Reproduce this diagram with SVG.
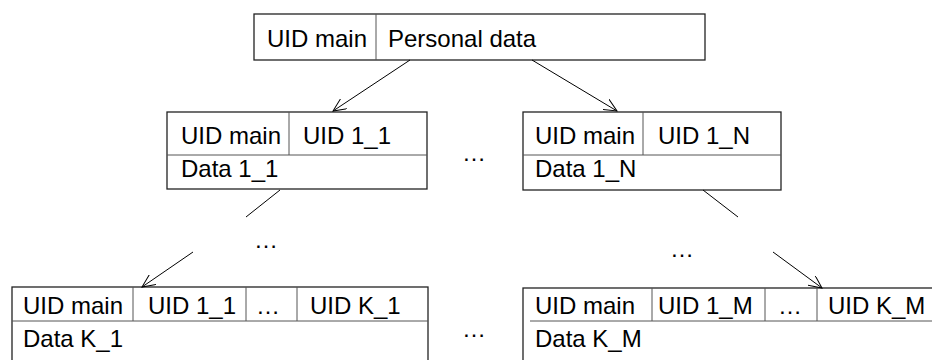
<svg xmlns="http://www.w3.org/2000/svg" width="932" height="360" viewBox="0 0 932 360">
<style>
.box{fill:#fff;stroke:#222;stroke-width:1.3}
.div{stroke:#555;stroke-width:1;fill:none}
.t{font-family:"Liberation Sans",Arial,sans-serif;font-size:24px;fill:#000}
.m{text-anchor:middle}
.c{stroke:#000;stroke-width:1;fill:none}
</style>
<defs>
<marker id="ah" viewBox="0 0 14 12" refX="13" refY="6" markerWidth="14" markerHeight="12" markerUnits="userSpaceOnUse" orient="auto">
<path d="M0,0 L13,6 L0,12" fill="none" stroke="#000" stroke-width="1"/>
</marker>
</defs>
<rect width="932" height="360" fill="#fff"/>
<g id="top">
<rect class="box" x="254" y="14" width="451" height="46"/>
<line class="div" x1="376" y1="14" x2="376" y2="60"/>
<text class="t" x="267" y="47">UID main</text>
<text class="t" x="388" y="47">Personal data</text>
</g>
<g id="mid1">
<rect class="box" x="167" y="112" width="260" height="77"/>
<line class="div" x1="289" y1="112" x2="289" y2="155"/>
<line class="div" x1="167" y1="155" x2="427" y2="155"/>
<text class="t" x="181" y="144">UID main</text>
<text class="t" x="303" y="144">UID 1_1</text>
<text class="t" x="181" y="177">Data 1_1</text>
</g>
<g id="midN">
<rect class="box" x="523" y="112" width="258" height="78"/>
<line class="div" x1="643" y1="112" x2="643" y2="155"/>
<line class="div" x1="523" y1="155" x2="781" y2="155"/>
<text class="t" x="535" y="144">UID main</text>
<text class="t" x="658" y="144">UID 1_N</text>
<text class="t" x="535" y="177">Data 1_N</text>
</g>
<g id="botK1">
<rect class="box" x="12" y="287" width="416" height="90"/>
<line class="div" x1="133" y1="287" x2="133" y2="321"/>
<line class="div" x1="246" y1="287" x2="246" y2="321"/>
<line class="div" x1="297" y1="287" x2="297" y2="321"/>
<line class="div" x1="12" y1="321" x2="428" y2="321"/>
<text class="t" x="23" y="314">UID main</text>
<text class="t" x="148" y="314">UID 1_1</text>
<text class="t m" x="268" y="314">…</text>
<text class="t" x="310" y="314">UID K_1</text>
<text class="t" x="23" y="347">Data K_1</text>
</g>
<g id="botKM">
<rect class="box" x="523" y="288" width="420" height="90"/>
<line class="div" x1="652" y1="288" x2="652" y2="321"/>
<line class="div" x1="765" y1="288" x2="765" y2="321"/>
<line class="div" x1="817" y1="288" x2="817" y2="321"/>
<line class="div" x1="530" y1="321" x2="932" y2="321"/>
<text class="t" x="535" y="314">UID main</text>
<text class="t" x="658" y="314">UID 1_M</text>
<text class="t m" x="790" y="314">…</text>
<text class="t" x="828" y="314">UID K_M</text>
<text class="t" x="535" y="347">Data K_M</text>
</g>
<g id="ellipses">
<text class="t m" x="474" y="161">…</text>
<text class="t m" x="474" y="337">…</text>
<text class="t m" x="266" y="248">…</text>
<text class="t m" x="682" y="257">…</text>
</g>
<g id="connectors">
<line class="c" x1="410" y1="60" x2="333" y2="111" marker-end="url(#ah)"/>
<line class="c" x1="532" y1="60" x2="617" y2="111" marker-end="url(#ah)"/>
<line class="c" x1="280" y1="190" x2="246" y2="217"/>
<line class="c" x1="193" y1="252" x2="142" y2="287" marker-end="url(#ah)"/>
<line class="c" x1="703" y1="190" x2="738" y2="217"/>
<line class="c" x1="773" y1="252" x2="822" y2="288" marker-end="url(#ah)"/>
</g>
</svg>
